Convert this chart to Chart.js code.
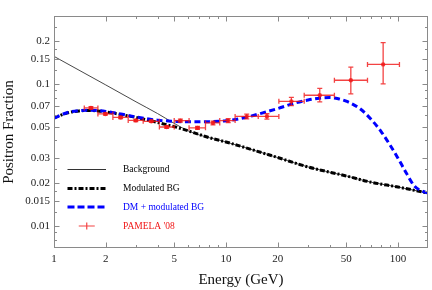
<!DOCTYPE html>
<html><head><meta charset="utf-8">
<script src="https://cdn.jsdelivr.net/npm/chart.js@4/dist/chart.umd.min.js"></script>
<style>html,body{margin:0;padding:0;background:#fff}#wrap{width:432px;height:290px}</style>
</head><body><div id="wrap"><canvas id="c" width="432" height="290"></canvas></div>
<script>
// ---- data ----
const bgE    = [1,2,3,4,5,6,7,8,10,15,20,30,50,70,100,150];
const bgFrac = [0.156,0.0982,0.0747,0.0618,0.0527,0.0468,0.0437,0.0418,0.039,0.0337,0.0303,0.026,0.0225,0.0203,0.0188,0.017];

const modE    = [1,1.2,1.4,1.6,1.8,2,2.5,3,4,5,6,7,8,10,15,20,30,50,70,100,125,150];
const modFrac = [0.0575,0.0625,0.0645,0.065,0.0645,0.0635,0.0605,0.058,0.0535,0.05,0.0468,0.044,0.0418,0.039,0.0337,0.0303,0.026,0.0225,0.0203,0.0188,0.0178,0.017];

const dmE    = [1,1.2,1.4,1.6,1.8,2,2.5,3,4,5,6,7,8,10,13,16,20,25,30,35,40,45,50,60,70,80,90,100,112,125,140,150];
const dmFrac = [0.0575,0.0628,0.0648,0.0652,0.0648,0.064,0.061,0.0585,0.0555,0.0545,0.054,0.054,0.0542,0.055,0.058,0.062,0.067,0.073,0.077,0.0793,0.080,0.0785,0.0755,0.067,0.056,0.046,0.037,0.030,0.0235,0.019,0.0175,0.017];

const pamE    = [1.64,1.99,2.44,2.99,3.68,4.52,5.43,6.83,8.4,10.3,13.2,17.3,24.0,35.1,53.2,82];
const pamELo  = [1.5,1.8,2.2,2.7,3.3,4.1,5.0,6.1,7.6,9.2,11.3,15.4,20.3,28.5,42.7,66.5];
const pamEHi  = [1.8,2.2,2.7,3.3,4.1,5.0,6.1,7.6,9.2,11.3,15.4,20.3,28.5,42.7,66.5,102];
const pamFrac = [0.0677,0.0614,0.058,0.0553,0.0545,0.0497,0.0551,0.049,0.0531,0.0551,0.059,0.059,0.0753,0.0831,0.106,0.137];
const pamErrDn = [0.0014,0.0011,0.001,0.001,0.001,0.0011,0.0013,0.0011,0.0016,0.0017,0.0023,0.0026,0.005,0.0085,0.021,0.037];
const pamErrUp = [0.0014,0.0011,0.001,0.001,0.001,0.0011,0.0013,0.0011,0.0016,0.0017,0.0023,0.0026,0.005,0.0099,0.025,0.058];

const xTicks = [1,2,5,10,20,50,100];
const xMinor = [3,4,6,7,8,9,30,40,60,70,80,90];
const yTicks = [0.01,0.015,0.02,0.03,0.05,0.07,0.1,0.15,0.2];
const yMinor = [0.008,0.009,0.0125,0.0175,0.025,0.04,0.06,0.08,0.09,0.125,0.175,0.25,0.3];

const legendLabels = ['Background','Modulated BG','DM + modulated BG',"PAMELA '08"];

// ---- chart ----
const SERIF = "'Liberation Serif','DejaVu Serif',serif";
const RED = 'rgba(240,20,20,0.8)';
const toXY = (xs, ys) => xs.map((x, i) => ({x: x, y: ys[i]}));

const framePlugin = {
  id: 'frame',
  afterDraw(chart) {
    const {ctx, chartArea: a, scales: {x, y}} = chart;
    const L = Math.round(a.left) + 0.5, R = Math.round(a.right) - 0.5;
    const T = Math.round(a.top) + 0.5, B = Math.round(a.bottom) - 0.5;
    ctx.save();
    ctx.strokeStyle = '#8a8a8a'; ctx.lineWidth = 1;
    ctx.strokeRect(L, T, R - L, B - T);
    ctx.beginPath();
    const xt = (v, len) => { const p = Math.round(x.getPixelForValue(v)) + 0.5;
      ctx.moveTo(p, B); ctx.lineTo(p, B - len); ctx.moveTo(p, T); ctx.lineTo(p, T + len); };
    const yt = (v, len) => { const p = Math.round(y.getPixelForValue(v)) + 0.5;
      ctx.moveTo(L, p); ctx.lineTo(L + len, p); ctx.moveTo(R, p); ctx.lineTo(R - len, p); };
    xTicks.forEach(v => xt(v, 5)); xMinor.forEach(v => xt(v, 2.5));
    yTicks.forEach(v => yt(v, 5)); yMinor.forEach(v => yt(v, 2.5));
    ctx.stroke();
    ctx.restore();
  }
};

const errorBarPlugin = {
  id: 'errbars',
  afterDatasetsDraw(chart) {
    const {ctx, scales: {x, y}} = chart;
    ctx.save();
    ctx.strokeStyle = RED; ctx.lineWidth = 1.3;
    ctx.beginPath();
    pamE.forEach((e, i) => {
      const px = x.getPixelForValue(e), py = y.getPixelForValue(pamFrac[i]);
      const x0 = x.getPixelForValue(pamELo[i]), x1 = x.getPixelForValue(pamEHi[i]);
      const y0 = y.getPixelForValue(pamFrac[i] - pamErrDn[i]), y1 = y.getPixelForValue(pamFrac[i] + pamErrUp[i]);
      ctx.moveTo(x0, py); ctx.lineTo(x1, py);
      ctx.moveTo(x0, py - 2.5); ctx.lineTo(x0, py + 2.5);
      ctx.moveTo(x1, py - 2.5); ctx.lineTo(x1, py + 2.5);
      ctx.moveTo(px, y0); ctx.lineTo(px, y1);
      ctx.moveTo(px - 2.5, y0); ctx.lineTo(px + 2.5, y0);
      ctx.moveTo(px - 2.5, y1); ctx.lineTo(px + 2.5, y1);
    });
    ctx.stroke();
    ctx.restore();
  }
};

const legendPlugin = {
  id: 'customLegend',
  afterDraw(chart) {
    const {ctx, chartArea: a} = chart;
    const rows = [153.5, 172.5, 191, 210];
    const sx0 = a.left + 13.5, sx1 = a.left + 52, tx = a.left + 69;
    const colors = ['#000', '#000', '#0000ff', 'rgb(240,20,20)'];
    ctx.save();
    rows.forEach((dy, i) => {
      const yy = a.top + dy;
      ctx.beginPath();
      if (i === 0) { ctx.strokeStyle = '#333'; ctx.lineWidth = 1; ctx.setLineDash([]); ctx.moveTo(sx0, yy); ctx.lineTo(sx1, yy); }
      if (i === 1) { ctx.strokeStyle = '#000'; ctx.lineWidth = 3; ctx.setLineDash([5, 2, 2, 2]); ctx.moveTo(sx0, yy); ctx.lineTo(sx1, yy); }
      if (i === 2) { ctx.strokeStyle = '#0000ff'; ctx.lineWidth = 3; ctx.setLineDash([7, 3]); ctx.moveTo(sx0, yy); ctx.lineTo(sx1, yy); }
      if (i === 3) { ctx.strokeStyle = RED; ctx.lineWidth = 1.2; ctx.setLineDash([]);
        const cx = (sx0 + sx1) / 2; ctx.moveTo(cx - 8, yy); ctx.lineTo(cx + 8, yy); ctx.moveTo(cx, yy - 3.5); ctx.lineTo(cx, yy + 3.5); }
      ctx.stroke();
      ctx.setLineDash([]);
      ctx.fillStyle = colors[i];
      ctx.font = "9.5px " + SERIF;
      ctx.textBaseline = 'middle'; ctx.textAlign = 'left';
      ctx.fillText(legendLabels[i], tx, yy);
    });
    ctx.restore();
  }
};

new Chart(document.getElementById('c'), {
  type: 'line',
  data: {
    datasets: [
      { label: legendLabels[3], type: 'scatter', data: toXY(pamE, pamFrac), showLine: false,
        pointRadius: 2.2, pointBackgroundColor: RED, pointBorderWidth: 0, borderColor: RED },
      { label: legendLabels[2], data: toXY(dmE, dmFrac), borderColor: '#0000ff', borderWidth: 3,
        borderDash: [6, 3.5], pointRadius: 0, cubicInterpolationMode: 'monotone', fill: false },
      { label: legendLabels[1], data: toXY(modE, modFrac), borderColor: '#000', borderWidth: 3,
        borderDash: [5, 2, 2, 2], pointRadius: 0, cubicInterpolationMode: 'monotone', fill: false },
      { label: legendLabels[0], data: toXY(bgE, bgFrac), borderColor: '#333', borderWidth: 0.9,
        pointRadius: 0, cubicInterpolationMode: 'monotone', fill: false }
    ]
  },
  options: {
    responsive: false, animation: false, devicePixelRatio: 1,
    layout: { padding: { top: 16, right: 4, left: 0, bottom: 0 } },
    plugins: { legend: { display: false }, tooltip: { enabled: false } },
    scales: {
      x: {
        type: 'logarithmic', min: 1, max: 149.5,
        grid: { display: false, drawTicks: false }, border: { display: false },
        afterBuildTicks: s => { s.ticks = xTicks.map(v => ({value: v})); },
        afterFit: s => { s.height = 42; },
        ticks: { autoSkip: false, maxRotation: 0, padding: 5, color: '#222',
          font: { family: SERIF, size: 11 }, callback: v => String(v) },
        title: { display: true, text: 'Energy (GeV)', color: '#111',
          font: { family: SERIF, size: 15 }, padding: { top: 0, bottom: 1 } }
      },
      y: {
        type: 'logarithmic', min: 0.007, max: 0.3,
        grid: { display: false, drawTicks: false }, border: { display: false },
        afterBuildTicks: s => { s.ticks = yTicks.map(v => ({value: v})); },
        afterFit: s => { s.width = 54; },
        ticks: { autoSkip: false, padding: 4, color: '#222',
          font: { family: SERIF, size: 11 }, callback: v => String(v) },
        title: { display: true, text: 'Positron Fraction', color: '#111',
          font: { family: SERIF, size: 15 }, padding: { top: 0, bottom: 0 } }
      }
    }
  },
  plugins: [framePlugin, errorBarPlugin, legendPlugin]
});
</script>
</body></html>
